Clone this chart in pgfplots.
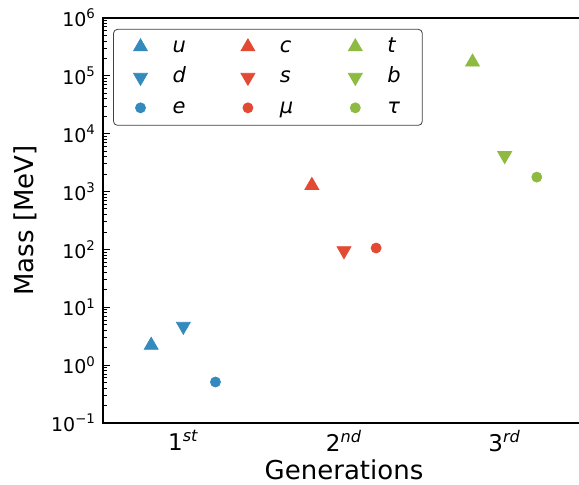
\documentclass[border=0pt]{standalone}
\usepackage{fontspec}
\setmainfont{DejaVu Sans}
\usepackage{pgfplots}
\pgfplotsset{compat=1.18}
\definecolor{cb}{HTML}{348ABD}
\definecolor{cr}{HTML}{E24A33}
\definecolor{cg}{HTML}{8EBA42}
\newcommand{\lentry}[1]{\makebox[12.5pt][l]{\textit{#1}}}
\begin{document}
\begin{tikzpicture}
\begin{axis}[
  scale only axis, width=241pt, height=202.5pt,
  xmin=0.5, xmax=3.5, ymode=log, log basis y=10, ymin=0.1, ymax=1e6,
  xtick={1,2,3},
  xticklabels={1\textsuperscript{\itshape st},2\textsuperscript{\itshape nd},3\textsuperscript{\itshape rd}},
  ytick={0.1,1,10,100,1000,10000,100000,1000000},
  yticklabels={10\textsuperscript{−1},10\textsuperscript{0},10\textsuperscript{1},10\textsuperscript{2},10\textsuperscript{3},10\textsuperscript{4},10\textsuperscript{5},10\textsuperscript{6}},
  minor ytick={0.2,0.3,0.4,0.5,0.6,0.7,0.8,0.9,2,3,4,5,6,7,8,9,20,30,40,50,60,70,80,90,200,300,400,500,600,700,800,900,2000,3000,4000,5000,6000,7000,8000,9000,20000,30000,40000,50000,60000,70000,80000,90000,200000,300000,400000,500000,600000,700000,800000,900000},
  tick align=inside, ytick pos=left, xtick pos=bottom,
  xtick style={draw=none},
  major tick length=3.5pt, minor tick length=2pt,
  tick style={black, line width=0.5pt},
  yticklabel style={font=\fontsize{9.5}{11}\selectfont},
  xticklabel style={font=\fontsize{11.5}{13}\selectfont},
  xlabel={Generations}, ylabel={Mass [MeV]},
  label style={font=\fontsize{13}{15}\selectfont},
  xlabel style={yshift=2.5pt},
  axis line style={line width=0.8pt},
  legend style={at={(0.021,0.973)}, anchor=north west, draw=black!75,
    rounded corners=2pt, font=\fontsize{10.5}{12}\selectfont, row sep=1.75pt,
    inner xsep=3pt, inner ysep=2pt,
    nodes={inner ysep=2pt, text height=7.5pt, text depth=2pt},
    /tikz/every even column/.append style={column sep=12.7pt}},
  legend image code/.code={%
    \path[draw=none, fill=none] (-10.5pt,0pt) -- (14pt,0pt);
    \draw[#1, only marks] plot coordinates {(0pt,0pt)};},
  legend columns=3, legend cell align=left,
  every axis plot/.append style={only marks},
]
\addplot[cb, mark=triangle*, mark size=4pt] coordinates {(0.8,2.2)};
\addlegendentry{\lentry{u}}
\addplot[cr, mark=triangle*, mark size=4pt] coordinates {(1.8,1275)};
\addlegendentry{\lentry{c}}
\addplot[cg, mark=triangle*, mark size=4pt] coordinates {(2.8,173000)};
\addlegendentry{\lentry{t}}
\addplot[cb, mark=triangle*, mark size=4pt, mark options={rotate=180}] coordinates {(1.0,4.7)};
\addlegendentry{\lentry{d}}
\addplot[cr, mark=triangle*, mark size=4pt, mark options={rotate=180}] coordinates {(2.0,95)};
\addlegendentry{\lentry{s}}
\addplot[cg, mark=triangle*, mark size=4pt, mark options={rotate=180}] coordinates {(3.0,4180)};
\addlegendentry{\lentry{b}}
\addplot[cb, mark=*, mark size=2.5pt] coordinates {(1.2,0.511)};
\addlegendentry{\lentry{e}}
\addplot[cr, mark=*, mark size=2.5pt] coordinates {(2.2,105.7)};
\addlegendentry{\lentry{μ}}
\addplot[cg, mark=*, mark size=2.5pt] coordinates {(3.2,1777)};
\addlegendentry{\lentry{τ}}
\end{axis}
\pgfresetboundingbox
\useasboundingbox (-51.5pt,-31pt) rectangle (238pt,211.5pt);
\end{tikzpicture}
\end{document}
